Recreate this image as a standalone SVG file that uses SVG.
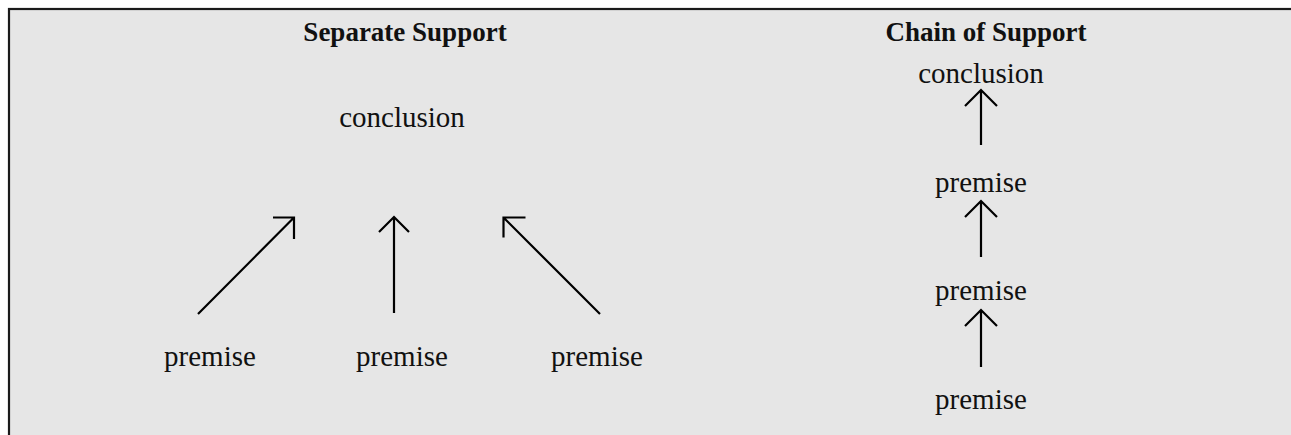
<svg xmlns="http://www.w3.org/2000/svg" width="1291" height="435" viewBox="0 0 1291 435">
<style>
.t{font-family:"Liberation Serif","Times New Roman",serif;font-size:29px;fill:#111;text-anchor:middle}
.h{font-family:"Liberation Serif","Times New Roman",serif;font-size:27px;font-weight:bold;fill:#111;text-anchor:middle}
.c{stroke:#000;stroke-width:2.2;fill:none}
</style>
<rect x="0" y="0" width="1291" height="435" fill="#fff"/>
<rect id="frame" x="9" y="9" width="1300" height="440" fill="#e6e6e6" stroke="#1a1a1a" stroke-width="2.2"/>
<g id="title-left"><text class="h" x="405" y="41">Separate Support</text></g>
<g id="title-right"><text class="h" x="986" y="41">Chain of Support</text></g>
<g id="conclusion-left"><text class="t" x="402" y="127">conclusion</text></g>
<g id="premise-l1"><text class="t" x="210" y="366">premise</text></g>
<g id="premise-l2"><text class="t" x="402" y="366">premise</text></g>
<g id="premise-l3"><text class="t" x="597" y="366">premise</text></g>
<g id="conclusion-right"><text class="t" x="981" y="83">conclusion</text></g>
<g id="premise-r1"><text class="t" x="981" y="192">premise</text></g>
<g id="premise-r2"><text class="t" x="981" y="300">premise</text></g>
<g id="premise-r3"><text class="t" x="981" y="409">premise</text></g>
<g id="connectors" class="c">
<path d="M198 314 L294 217.5 M273 217.5 H294 V239"/>
<path d="M394 313 V217 M379 232 L394 217 L409 232"/>
<path d="M600 314 L503.5 217.5 M525.5 217.5 H503.5 V237.5"/>
<path d="M981 145 V90 M965 106 L981 90 L997 106"/>
<path d="M981 257 V201 M965 217 L981 201 L997 217"/>
<path d="M981 367 V310 M965 326 L981 310 L997 326"/>
</g>
</svg>
